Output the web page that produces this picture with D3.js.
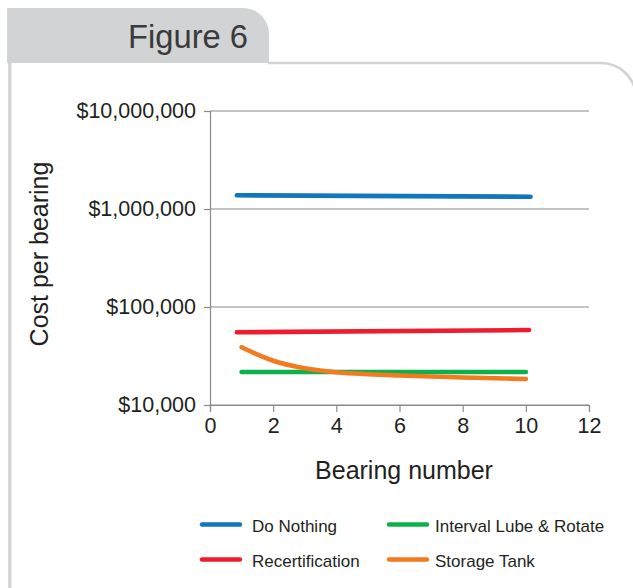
<!DOCTYPE html>
<html>
<head>
<meta charset="utf-8">
<script src="https://cdn.jsdelivr.net/npm/d3@7"></script>
<style>
  html, body { margin: 0; padding: 0; background: #fff; }
  svg { display: block; font-family: "Liberation Sans", Arial, Helvetica, sans-serif; }
</style>
</head>
<body>
<svg id="chart" width="633" height="588"></svg>
<script>
// ---- data ----
const seriesNames = ["Do Nothing", "Interval Lube & Rotate", "Recertification", "Storage Tank"];
const seriesColors = ["#1176bc", "#0db14b", "#ed1c2e", "#f47a20"];
const doNothingX = [0.85, 10.15];
const doNothingY = [1380000, 1335000];
const lubeX = [1, 10];
const lubeY = [21700, 21700];
const recertX = [0.85, 10.1];
const recertY = [55200, 58200];
const tankX = [1, 2, 3, 4, 5, 6, 7, 8, 9, 10];
const tankY = [38800, 28300, 23700, 21600, 20600, 20000, 19550, 19100, 18750, 18400];
const xTicks = [0, 2, 4, 6, 8, 10, 12];
const yTicks = [10000, 100000, 1000000, 10000000];
const title = "Figure 6";
const xTitle = "Bearing number";
const yTitle = "Cost per bearing";

const svg = d3.select("#chart");

// ---- frame ----
const frameGray = "#d1d3d4";
svg.append("path")
  .attr("d", "M7,63 V8 H243 A26,26 0 0 1 269,34 V63 Z")
  .attr("fill", frameGray);
svg.append("path")
  .attr("d", "M268,63 H601 A35,35 0 0 1 636,98 V600")
  .attr("fill", "none").attr("stroke", frameGray).attr("stroke-width", 2.6);
svg.append("line")
  .attr("x1", 9.8).attr("x2", 9.8).attr("y1", 60).attr("y2", 588)
  .attr("stroke", frameGray).attr("stroke-width", 3.2);

svg.append("text")
  .attr("x", 128).attr("y", 48.3)
  .attr("font-size", 32.5).attr("fill", "#3a3a3a")
  .attr("textLength", 120).attr("lengthAdjust", "spacingAndGlyphs")
  .text(title);

// ---- scales ----
const x = d3.scaleLinear().domain([0, 12]).range([210, 589]);
const y = d3.scaleLog().domain([10000, 10000000]).range([405, 111]);
const axisColor = "#8a8a8a";
const textColor = "#231f20";

// gridlines
svg.append("g").selectAll("line").data(yTicks).join("line")
  .attr("x1", x(0)).attr("x2", x(12))
  .attr("y1", d => y(d)).attr("y2", d => y(d))
  .attr("stroke", axisColor).attr("stroke-width", 1.2);

// y axis
const yAxis = svg.append("g").attr("transform", `translate(${x(0)},0)`)
  .call(d3.axisLeft(y).tickValues(yTicks).tickSize(6).tickPadding(8)
    .tickFormat(d => "$" + d3.format(",")(d)));
yAxis.select(".domain").attr("stroke", axisColor).attr("stroke-width", 1.2);
yAxis.selectAll(".tick line").attr("stroke", axisColor).attr("stroke-width", 1.2);
yAxis.selectAll("text").attr("font-size", 21.5).attr("fill", textColor)
  .attr("font-family", "Liberation Sans, Arial, sans-serif");

// x axis
const xAxis = svg.append("g").attr("transform", `translate(0,${y(10000)})`)
  .call(d3.axisBottom(x).tickValues(xTicks).tickSize(7).tickPadding(6).tickFormat(d3.format("d")));
xAxis.select(".domain").attr("stroke", axisColor).attr("stroke-width", 1.2);
xAxis.selectAll(".tick line").attr("stroke", axisColor).attr("stroke-width", 1.2);
xAxis.selectAll("text").attr("font-size", 21.5).attr("fill", textColor)
  .attr("font-family", "Liberation Sans, Arial, sans-serif");

// axis titles
svg.append("text")
  .attr("x", 404).attr("y", 479).attr("text-anchor", "middle")
  .attr("font-size", 25).attr("fill", textColor).text(xTitle);
svg.append("text")
  .attr("transform", "translate(48,254) rotate(-90)").attr("text-anchor", "middle")
  .attr("font-size", 25).attr("fill", textColor).text(yTitle);

// ---- series ----
const series = [
  { name: seriesNames[0], color: seriesColors[0], xs: doNothingX, ys: doNothingY },
  { name: seriesNames[1], color: seriesColors[1], xs: lubeX, ys: lubeY },
  { name: seriesNames[2], color: seriesColors[2], xs: recertX, ys: recertY },
  { name: seriesNames[3], color: seriesColors[3], xs: tankX, ys: tankY }
];
const line = d3.line().x(d => x(d[0])).y(d => y(d[1])).curve(d3.curveCatmullRom.alpha(0.5));
const drawOrder = [0, 2, 1, 3];
drawOrder.forEach(i => {
  const s = series[i];
  svg.append("path")
    .datum(s.xs.map((v, j) => [v, s.ys[j]]))
    .attr("d", line)
    .attr("fill", "none").attr("stroke", s.color)
    .attr("stroke-width", 4.6).attr("stroke-linecap", "round").attr("stroke-linejoin", "round");
});

// ---- legend ----
const legendPos = [
  { lx: 200, tx: 252, y: 524.5 },
  { lx: 387, tx: 435, y: 524.5 },
  { lx: 200, tx: 252, y: 559.5 },
  { lx: 387, tx: 435, y: 559.5 }
];
series.forEach((s, i) => {
  const p = legendPos[i];
  svg.append("line")
    .attr("x1", p.lx + 2).attr("x2", p.lx + 40).attr("y1", p.y).attr("y2", p.y)
    .attr("stroke", s.color).attr("stroke-width", 4.4).attr("stroke-linecap", "round");
  svg.append("text")
    .attr("x", p.tx).attr("y", p.y + 7).attr("font-size", 17).attr("fill", textColor)
    .text(s.name);
});
</script>
</body>
</html>
